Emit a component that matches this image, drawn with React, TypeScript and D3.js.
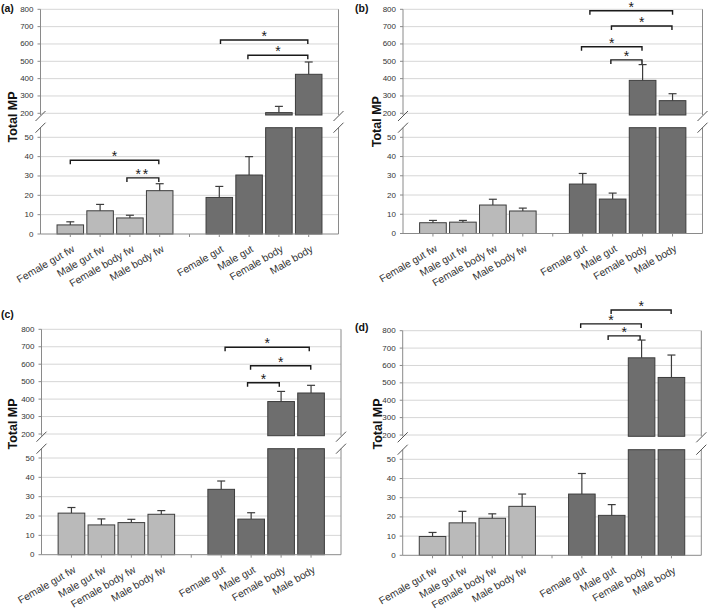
import React from "react";
import * as d3 from "d3";

const categories = [
  "Female gut fw",
  "Male gut fw",
  "Female body fw",
  "Male body fw",
  "Female gut",
  "Male gut",
  "Female body",
  "Male body",
];
const slotPositions = [1, 2, 3, 4, 6, 7, 8, 9];
const gapTick = 5;
const upperTicks = [200, 300, 400, 500, 600, 700, 800];
const lowerTicks = [0, 10, 20, 30, 40, 50];

const meansA = [4.7, 12.0, 8.3, 22.4, 18.9, 30.5, 204, 425];
const seA = [1.6, 3.3, 1.4, 3.6, 5.7, 9.5, 36, 71];
const meansB = [5.6, 5.9, 14.8, 11.7, 25.7, 17.9, 390, 273];
const seB = [1.2, 0.9, 3.0, 1.5, 5.5, 3.1, 91, 40];
const meansC = [21.5, 15.4, 16.6, 20.9, 33.8, 18.4, 386, 435];
const seC = [2.9, 3.1, 1.7, 1.9, 4.3, 3.3, 58, 44];
const meansD = [9.8, 16.9, 19.3, 25.5, 31.9, 20.8, 644, 531];
const seD = [2.1, 6.0, 2.3, 6.4, 10.7, 5.6, 102, 129];

// brackets: [from slot, to slot, height value, section, label]
type Bracket = [number, number, number, "upper" | "lower", string];
const bracketsA: Bracket[] = [
  [1.0, 3.97, 38.1, "lower", "*"],
  [2.9, 3.97, 29.0, "lower", "**"],
  [6.04, 8.97, 623, "upper", "*"],
  [6.96, 8.97, 535, "upper", "*"],
];
const bracketsB: Bracket[] = [
  [6.24, 9.0, 792, "upper", "*"],
  [6.96, 8.98, 704, "upper", "*"],
  [5.96, 7.98, 584, "upper", "*"],
  [6.94, 7.98, 508, "upper", "*"],
];
const bracketsC: Bracket[] = [
  [6.13, 8.94, 697, "upper", "*"],
  [6.98, 8.99, 591, "upper", "*"],
  [6.88, 7.94, 494, "upper", "*"],
];
const bracketsD: Bracket[] = [
  [6.98, 8.99, 919, "upper", "*"],
  [5.96, 7.99, 839, "upper", "*"],
  [6.88, 7.95, 770, "upper", "*"],
];

const FONT = "'Liberation Sans', Arial, sans-serif";
const LIGHT = "#bababa";
const DARK = "#6e6e6e";
const STROKE = "#3c3c3c";
const GRID = "#d6d6d6";
const AXIS = "#8a8a8a";

interface Layout {
  label: string;
  labelX: number;
  labelY: number;
  titleX: number;
  titleY: number;
  left: number;
  right: number;
  y800: number;
  y200: number;
  upperBottom: number;
  lowerTop: number;
  y50: number;
  y0: number;
}

function Panel({
  layout,
  means,
  se,
  brackets,
}: {
  layout: Layout;
  means: number[];
  se: number[];
  brackets: Bracket[];
}) {
  const L = layout;
  const x = d3.scaleLinear().domain([0, 10]).range([L.left, L.right]);
  const yU = d3.scaleLinear().domain([200, 800]).range([L.y200, L.y800]);
  const yL = d3.scaleLinear().domain([0, 50]).range([L.y0, L.y50]);
  const slot = x(1) - x(0);
  const bw = slot * 0.89;
  const cap = 4;

  const slash = (cx: number, cy: number, k: string) => (
    <line key={k} x1={cx - 5} y1={cy + 5} x2={cx + 5} y2={cy - 5} stroke="#555" strokeWidth={1} />
  );

  return (
    <g>
      <text x={L.labelX} y={L.labelY} fontFamily={FONT} fontWeight="bold" fontSize={10.5} fill="#111">
        {L.label}
      </text>
      <text
        transform={`translate(${L.titleX},${L.titleY}) rotate(-90)`}
        textAnchor="middle"
        dominantBaseline="central"
        fontFamily={FONT}
        fontWeight="bold"
        fontSize={12.5}
        fill="#111"
      >
        Total MP
      </text>
      {/* gridlines */}
      {upperTicks.map((t) => (
        <line key={"gu" + t} x1={L.left} x2={L.right} y1={yU(t)} y2={yU(t)} stroke={GRID} strokeWidth={1} />
      ))}
      {lowerTicks
        .filter((t) => t > 0)
        .map((t) => (
          <line key={"gl" + t} x1={L.left} x2={L.right} y1={yL(t)} y2={yL(t)} stroke={GRID} strokeWidth={1} />
        ))}
      {/* bars */}
      {means.map((m, i) => {
        const cx = x(slotPositions[i]);
        const fill = i < 4 ? LIGHT : DARK;
        const lowTop = Math.max(yL(m), L.lowerTop);
        const els = [
          <rect
            key={"bl" + i}
            x={cx - bw / 2}
            y={lowTop}
            width={bw}
            height={L.y0 - lowTop}
            fill={fill}
            stroke={STROKE}
            strokeWidth={1}
          />,
        ];
        if (m > 200) {
          els.push(
            <rect
              key={"bu" + i}
              x={cx - bw / 2}
              y={yU(m)}
              width={bw}
              height={L.upperBottom - yU(m)}
              fill={fill}
              stroke={STROKE}
              strokeWidth={1}
            />
          );
        }
        const ys = m > 200 ? yU : yL;
        const yTop = ys(m);
        const yErr = ys(m + se[i]);
        els.push(
          <g key={"e" + i} stroke={STROKE} strokeWidth={1.2}>
            <line x1={cx} x2={cx} y1={yTop} y2={yErr} />
            <line x1={cx - cap} x2={cx + cap} y1={yErr} y2={yErr} />
          </g>
        );
        return <g key={"bar" + i}>{els}</g>;
      })}
      {/* axes */}
      <g stroke={AXIS} strokeWidth={1}>
        <line x1={L.left} x2={L.left} y1={L.y800} y2={L.upperBottom} />
        <line x1={L.left} x2={L.left} y1={L.lowerTop} y2={L.y0} />
        <line x1={L.right} x2={L.right} y1={L.y800} y2={L.upperBottom} />
        <line x1={L.right} x2={L.right} y1={L.lowerTop} y2={L.y0} />
        <line x1={L.left} x2={L.right} y1={L.y0} y2={L.y0} />
        {upperTicks.map((t) => (
          <line key={"tu" + t} x1={L.left - 3} x2={L.left} y1={yU(t)} y2={yU(t)} />
        ))}
        {lowerTicks.map((t) => (
          <line key={"tl" + t} x1={L.left - 3} x2={L.left} y1={yL(t)} y2={yL(t)} />
        ))}
        {[...slotPositions, gapTick].map((p) => (
          <line key={"tx" + p} x1={x(p)} x2={x(p)} y1={L.y0} y2={L.y0 + 3} />
        ))}
      </g>
      {slash(L.left, L.upperBottom + 1, "s1")}
      {slash(L.left, L.lowerTop, "s2")}
      {slash(L.right, L.upperBottom + 1, "s3")}
      {slash(L.right, L.lowerTop, "s4")}
      {/* tick labels */}
      {upperTicks.map((t) => (
        <text
          key={"lu" + t}
          x={L.left - 7}
          y={yU(t)}
          textAnchor="end"
          dominantBaseline="central"
          fontFamily={FONT}
          fontSize={8}
          fill="#333"
        >
          {t}
        </text>
      ))}
      {lowerTicks.map((t) => (
        <text
          key={"ll" + t}
          x={L.left - 7}
          y={yL(t)}
          textAnchor="end"
          dominantBaseline="central"
          fontFamily={FONT}
          fontSize={8}
          fill="#333"
        >
          {t}
        </text>
      ))}
      {categories.map((c, i) => {
        const cx = x(slotPositions[i]);
        return (
          <text
            key={"xl" + i}
            transform={`translate(${cx + 5},${L.y0 + 17}) rotate(-30)`}
            textAnchor="end"
            fontFamily={FONT}
            fontSize={10.3}
            fill="#333"
          >
            {c}
          </text>
        );
      })}
      {/* significance brackets */}
      {brackets.map((b, i) => {
        const [a, e, h, sec, lab] = b;
        const yy = sec === "upper" ? yU(h) : yL(h);
        const x1 = x(a);
        const x2 = x(e);
        return (
          <g key={"br" + i}>
            <path
              d={`M${x1},${yy + 4}V${yy}H${x2}V${yy + 4}`}
              fill="none"
              stroke="#1a1a1a"
              strokeWidth={1.4}
            />
            <text
              x={(x1 + x2) / 2}
              y={Math.max(yy + 1, 10.5)}
              textAnchor="middle"
              fontFamily={FONT}
              fontSize={14}
              letterSpacing={lab.length > 1 ? 2 : 0}
              fill="#1a1a1a"
            >
              {lab}
            </text>
          </g>
        );
      })}
    </g>
  );
}

const layoutA: Layout = {
  label: "(a)", labelX: 1, labelY: 12, titleX: 13, titleY: 117,
  left: 40.5, right: 338.5, y800: 9.3, y200: 113.3, upperBottom: 115, lowerTop: 127.7, y50: 137.3, y0: 234,
};
const layoutB: Layout = {
  label: "(b)", labelX: 355, labelY: 12, titleX: 377, titleY: 121.7,
  left: 403, right: 702.5, y800: 9.3, y200: 113.3, upperBottom: 115, lowerTop: 127.7, y50: 137.3, y0: 233.5,
};
const layoutC: Layout = {
  label: "(c)", labelX: 1, labelY: 318, titleX: 12.5, titleY: 424,
  left: 41.5, right: 341, y800: 329.3, y200: 434, upperBottom: 435.7, lowerTop: 448.7, y50: 458, y0: 554.7,
};
const layoutD: Layout = {
  label: "(d)", labelX: 355, labelY: 331, titleX: 378, titleY: 424,
  left: 402.7, right: 701.3, y800: 330.7, y200: 435, upperBottom: 436.3, lowerTop: 449.7, y50: 459.3, y0: 555.3,
};

export default function App() {
  return (
    <svg
      width={709}
      height={610}
      style={{ position: "absolute", left: 0, top: 0, background: "#fff" }}
    >
      <rect width={709} height={610} fill="#fff" />
      <Panel layout={layoutA} means={meansA} se={seA} brackets={bracketsA} />
      <Panel layout={layoutB} means={meansB} se={seB} brackets={bracketsB} />
      <Panel layout={layoutC} means={meansC} se={seC} brackets={bracketsC} />
      <Panel layout={layoutD} means={meansD} se={seD} brackets={bracketsD} />
    </svg>
  );
}
